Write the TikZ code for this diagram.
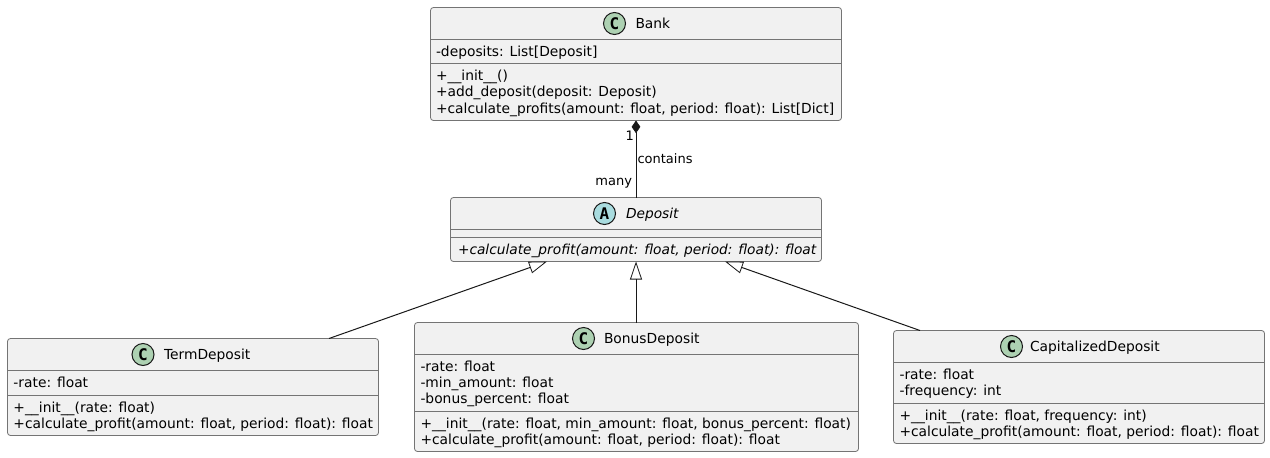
\documentclass[tikz,border=0pt]{standalone}
\usepackage{fontspec}
\setmainfont{DejaVu Sans}
\newfontfamily\spotfont[Scale=1.0]{DejaVu Sans Mono}
\usetikzlibrary{arrows.meta}
\definecolor{boxfill}{HTML}{F1F1F1}
\definecolor{boxline}{HTML}{181818}
\definecolor{spotc}{HTML}{ADD1B2}
\definecolor{spota}{HTML}{A9DCDF}
\tikzset{
  x=0.75pt,y=-0.75pt,
  umlbox/.style={draw=boxline!60,fill=boxfill,line width=0.6pt,rounded corners=2.2pt,inner sep=0pt,outer sep=0pt},
  divider/.style={draw=boxline!60,line width=0.6pt},
  row/.style={anchor=base west,inner sep=0pt,outer sep=0pt,font=\fontsize{10.37}{12}\selectfont,text=black},
  title/.style={row},
  slanted row/.style={row,font=\fontsize{10.3}{12}\selectfont\itshape},
  lbl/.style={inner sep=0pt,outer sep=0pt,font=\fontsize{9.75}{11}\selectfont,text=black},
  spot/.style={circle,draw=boxline,line width=0.75pt,minimum size=16.5pt,inner sep=0pt,outer sep=0pt,font=\spotfont\bfseries\fontsize{12}{12}\selectfont,text=black},
  link/.style={draw=boxline,line width=0.75pt},
  inherit/.style={link,-{Triangle[open,length=13.5pt,width=9pt,line width=0.6pt]}},
  compose/.style={link,{Diamond[length=9.5pt,width=6.5pt,fill=boxline,line width=0.5pt]}-},
}
\newcommand{\umlclass}[5]{%
  \pgfmathsetlengthmacro{\bw}{(#4-#2)*0.75pt}%
  \pgfmathsetlengthmacro{\bh}{(#5-#3)*0.75pt}%
  \node[umlbox,minimum width=\bw,minimum height=\bh,anchor=north west] (#1) at (#2,#3) {};%
}
\begin{document}
\begin{tikzpicture}
\useasboundingbox (0,0) rectangle (1270,457);

% Bank
\umlclass{bank}{430.5}{7.5}{841.5}{120.5}
\draw[divider] (430.5,39.5) -- (841.5,39.5);
\draw[divider] (430.5,63.5) -- (841.5,63.5);
\node[spot,fill=spotc] (bankspot) at (614.5,23.5) {C};
\node[title] (banktitle) at (635.5,28) {Bank};
\node[row] (bankf1) at (436,56) {-deposits: List[Deposit]};
\node[row] (bankm1) at (436,80) {+\_\_init\_\_()};
\node[row] (bankm2) at (436,96.5) {+add\_deposit(deposit: Deposit)};
\node[row] (bankm3) at (436,113) {+calculate\_profits(amount: float, period: float): List[Dict]};

% Deposit
\umlclass{deposit}{450.5}{197.5}{821.5}{261.5}
\draw[divider] (450.5,229.5) -- (821.5,229.5);
\draw[divider] (450.5,237.5) -- (821.5,237.5);
\node[spot,fill=spota] (depositspot) at (604.5,213.5) {A};
\node[slanted row] (deposittitle) at (626,218) {Deposit};
\node[slanted row] (depositm1) at (458,254) {+calculate\_profit(amount: float, period: float): float};

% TermDeposit
\umlclass{term}{7.5}{338.5}{378.5}{435.5}
\draw[divider] (7.5,370.5) -- (378.5,370.5);
\draw[divider] (7.5,395.5) -- (378.5,395.5);
\node[spot,fill=spotc] (termspot) at (143,354.5) {C};
\node[title] (termtitle) at (164,359) {TermDeposit};
\node[row] (termf1) at (13.5,387) {-rate: float};
\node[row] (termm1) at (13.5,412) {+\_\_init\_\_(rate: float)};
\node[row] (termm2) at (13.5,428) {+calculate\_profit(amount: float, period: float): float};

% BonusDeposit
\umlclass{bonus}{414.5}{322.5}{858.5}{451.5}
\draw[divider] (414.5,354.5) -- (858.5,354.5);
\draw[divider] (414.5,411.5) -- (858.5,411.5);
\node[spot,fill=spotc] (bonusspot) at (583.5,338.5) {C};
\node[title] (bonustitle) at (604,343) {BonusDeposit};
\node[row] (bonusf1) at (420.5,371) {-rate: float};
\node[row] (bonusf2) at (420.5,387) {-min\_amount: float};
\node[row] (bonusf3) at (420.5,403) {-bonus\_percent: float};
\node[row] (bonusm1) at (420.5,428) {+\_\_init\_\_(rate: float, min\_amount: float, bonus\_percent: float)};
\node[row] (bonusm2) at (420.5,444) {+calculate\_profit(amount: float, period: float): float};

% CapitalizedDeposit
\umlclass{cap}{893.5}{330.5}{1264.5}{443.5}
\draw[divider] (893.5,362.5) -- (1264.5,362.5);
\draw[divider] (893.5,403.5) -- (1264.5,403.5);
\node[spot,fill=spotc] (capspot) at (1011.5,346.5) {C};
\node[title] (captitle) at (1030,351) {CapitalizedDeposit};
\node[row] (capf1) at (899.5,379) {-rate: float};
\node[row] (capf2) at (899.5,395) {-frequency: int};
\node[row] (capm1) at (899.5,420) {+\_\_init\_\_(rate: float, frequency: int)};
\node[row] (capm2) at (899.5,436) {+calculate\_profit(amount: float, period: float): float};

% Connectors
\coordinate (termtip) at (547,261.5);
\coordinate (termfoot) at (329,338.5);
\coordinate (captip) at (725,261.5);
\coordinate (capfoot) at (920,330.5);
\coordinate (bonusfoot) at (bonus.north -| deposit.south);
\draw[compose] (bank.south) -- (deposit.north);
\draw[inherit] (termfoot) -- (termtip);
\draw[inherit] (bonusfoot) -- (deposit.south);
\draw[inherit] (capfoot) -- (captip);

% Labels
\node[lbl,anchor=base west] (contains) at (637.5,163) {contains};
\node[lbl,anchor=base east] (many) at (632,185.5) {many};
\node[lbl,anchor=base east] (one) at (634,140) {1};
\end{tikzpicture}
\end{document}
